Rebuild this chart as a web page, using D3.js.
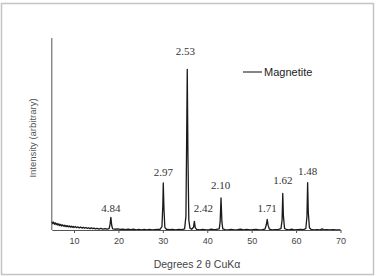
<!DOCTYPE html>
<html><head><meta charset="utf-8">
<script src="https://cdn.jsdelivr.net/npm/d3@7"></script>
<style>html,body{margin:0;padding:0;background:#fff;}</style>
</head><body>
<script>
const twoTheta = [5.0,5.2,5.4,5.6,5.8,6.0,6.2,6.4,6.6,6.8,7.0,7.2,7.4,7.6,7.8,8.0,8.2,8.4,8.6,8.8,9.0,9.2,9.4,9.6,9.8,10.0,10.3,10.6,10.9,11.2,11.5,11.8,12.1,12.4,12.7,13.0,13.3,13.6,13.9,14.2,14.5,14.8,15.2,15.6,16.0,16.5,17.0,17.5,17.9,18.1,18.3,18.5,18.7,19.2,19.8,20.4,21.0,21.6,22.2,22.8,23.4,24.0,24.6,25.2,25.8,26.4,27.0,27.6,28.2,28.8,29.4,29.8,30.0,30.1,30.25,30.45,30.8,31.5,32.2,32.9,33.6,34.3,34.9,35.2,35.35,35.5,35.65,35.85,36.1,36.5,36.9,37.1,37.3,37.6,38.3,39.0,39.7,40.4,41.0,41.3,42.0,42.7,42.9,43.1,43.3,43.5,44.0,44.7,45.4,46.1,46.8,47.5,48.2,48.9,49.6,50.3,51.0,51.7,52.4,53.0,53.3,53.5,53.7,54.0,54.6,55.3,56.0,56.6,56.85,57.0,57.15,57.4,57.8,58.4,59.0,59.6,60.3,61.0,61.7,62.2,62.45,62.6,62.75,63.0,63.4,64.0,64.7,65.4,65.9,66.2,66.9,67.6,68.3,69.0,69.6,70.0];
const intensity = [5.2,4.1,4.9,3.8,4.5,3.6,4.2,3.3,4.0,3.1,3.7,2.9,3.5,2.8,3.3,2.6,3.2,2.5,3.0,2.4,2.9,2.3,2.8,2.2,2.7,2.1,2.6,2.0,2.4,1.9,2.3,1.8,2.2,1.7,2.1,1.6,2.0,1.5,1.9,1.5,1.8,1.4,1.7,1.3,1.6,1.3,1.5,1.2,1.5,3.5,7.4,3.0,1.4,1.2,1.4,1.1,1.3,1.0,1.2,1.0,1.2,0.9,1.1,0.9,1.1,0.9,1.1,0.9,1.0,1.1,1.2,2.5,14,25.3,12,2.2,1.2,1.0,1.1,0.9,1.1,1.0,1.4,8,45,84.5,40,6,1.8,1.2,2.2,5.3,2.0,1.1,0.9,1.1,0.9,1.0,1.3,1.0,1.1,1.4,5,17.5,5,1.4,1.0,0.9,1.1,0.9,1.0,1.2,0.9,1.1,0.9,1.0,1.1,0.9,1.0,1.3,3.5,6.3,3.2,1.2,0.9,1.0,1.1,1.5,6,19.8,8,1.6,1.1,0.9,1.2,0.9,1.0,1.1,1.0,1.6,8,25.5,10,2.0,1.1,0.9,1.0,0.9,1.4,0.9,1.0,0.8,1.0,0.8,0.9,0.8];

const xTicks = [10,20,30,40,50,60,70];
const peakLabels = ["4.84","2.97","2.53","2.42","2.10","1.71","1.62","1.48"];
const labelAngle = [18.3,30.1,35.1,39.1,43.0,53.5,57.0,62.6];
const labelIntensity = [9.5,28,91,9.5,21.5,9.5,24,28.5];

const W = 377, H = 276;
const svg = d3.select("body").append("svg").attr("width", W).attr("height", H);

svg.append("rect").attr("x",1.5).attr("y",3.5).attr("width",372).attr("height",271)
  .attr("fill","#fff").attr("stroke","#c4c4c4").attr("stroke-width",1.5);

const x = d3.scaleLinear().domain([5,70]).range([51.8,340.5]);
const y = d3.scaleLinear().domain([0,100]).range([230,38]);

const pts = twoTheta.map((t,i)=>[t,intensity[i]]);

svg.append("path").datum(pts)
  .attr("fill","none").attr("stroke","#1a1a1a").attr("stroke-width",1.3)
  .attr("stroke-linejoin","round")
  .attr("d", d3.line().x(d=>x(d[0])).y(d=>y(d[1]-0.8)));

const xAxis = d3.axisBottom(x).tickValues(xTicks).tickSize(3).tickSizeOuter(0).tickPadding(5);
const gx = svg.append("g").attr("transform",`translate(0,${y(0)})`).call(xAxis);
gx.select(".domain").attr("stroke","#555").attr("stroke-width",1);
gx.selectAll(".tick line").attr("stroke","#555");
gx.selectAll("text").attr("font-family","Liberation Sans, Arial, sans-serif").attr("font-size",9).attr("fill","#444");

svg.append("line").attr("x1",x(5)).attr("x2",x(5)).attr("y1",y(0)).attr("y2",y(100))
  .attr("stroke","#555").attr("stroke-width",1);

svg.append("text").attr("x",197).attr("y",268).attr("text-anchor","middle")
  .attr("font-family","Liberation Sans, Arial, sans-serif").attr("font-size",10.5).attr("fill","#444")
  .text("Degrees 2 θ CuKα");

svg.append("text").attr("transform","translate(36,138) rotate(-90)").attr("text-anchor","middle")
  .attr("font-family","Liberation Sans, Arial, sans-serif").attr("font-size",9.5).attr("fill","#555")
  .text("Intensity (arbitrary)");

svg.selectAll("text.pk").data(peakLabels).enter().append("text").attr("class","pk")
  .attr("x",(d,i)=>x(labelAngle[i])).attr("y",(d,i)=>y(labelIntensity[i]))
  .attr("text-anchor","middle")
  .attr("font-family","Liberation Serif, Times New Roman, serif").attr("font-size",11).attr("fill","#333")
  .text(d=>d);

svg.append("line").attr("x1",243).attr("x2",262).attr("y1",72).attr("y2",72)
  .attr("stroke","#333").attr("stroke-width",1.2);
svg.append("text").attr("x",264).attr("y",76).attr("font-family","Liberation Sans, Arial, sans-serif")
  .attr("font-size",11).attr("fill","#222").text("Magnetite");
</script>
</body></html>
